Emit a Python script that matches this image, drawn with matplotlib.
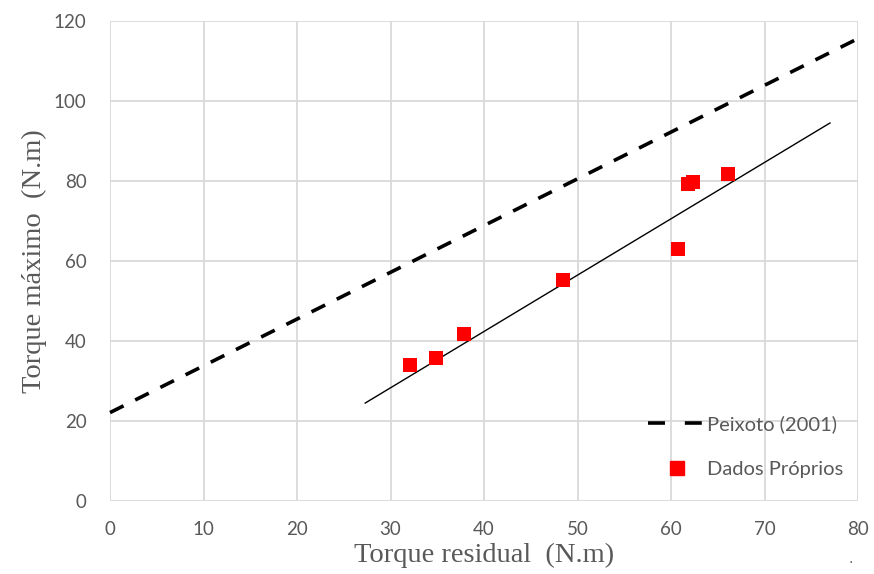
import numpy as np
import matplotlib.pyplot as plt
from matplotlib.lines import Line2D

# measured points (residual torque vs maximum torque)
torque_residual = [32.1, 34.9, 37.9, 48.4, 60.7, 61.8, 62.4, 66.1]
torque_maximo = [33.9, 35.6, 41.6, 55.1, 62.9, 79.1, 79.6, 81.6]

# Peixoto (2001) relation and fitted trend line of own data
peixoto_slope, peixoto_intercept = 1.17, 22.0
fit_slope, fit_intercept = 1.41, -14.1
fit_range = [27.3, 77.0]

x_ticks = list(range(0, 90, 10))
y_ticks = list(range(0, 140, 20))

GRAY = "#595959"
GRID = "#d9d9d9"

fig = plt.figure(figsize=(8.74, 5.74), dpi=100)
ax = fig.add_axes([110 / 874, 1 - 500.5 / 574, 748 / 874, 479.5 / 574])

ax.set_xlim(0, 80)
ax.set_ylim(0, 120)
ax.set_xticks(x_ticks)
ax.set_yticks(y_ticks)
ax.grid(True, color=GRID, linewidth=1.3)
ax.set_axisbelow(True)
for s in ax.spines.values():
    s.set_visible(False)
ax.tick_params(length=0, colors=GRAY, labelsize=13.5)
ax.tick_params(axis="x", pad=15)
ax.tick_params(axis="y", pad=17)
for lab in ax.get_xticklabels() + ax.get_yticklabels():
    lab.set_family("Lato")

xp = np.array([0, 80])
ax.plot(xp, peixoto_slope * xp + peixoto_intercept, color="black",
        linestyle=(0, (4.2, 3.6)), linewidth=2.6, clip_on=False, zorder=3)

xf = np.array(fit_range)
ax.plot(xf, fit_slope * xf + fit_intercept, color="black", linewidth=1.0, zorder=3)

ax.scatter(torque_residual, torque_maximo, marker="s", s=95, color="red",
           linewidths=0, zorder=4)

ax.set_xlabel("Torque residual  (N.m)", family="Liberation Serif", fontsize=20.5,
              color=GRAY, labelpad=3)
ax.set_ylabel("Torque máximo  (N.m)", family="Liberation Serif", fontsize=20.5,
              color=GRAY, labelpad=5)

handles = [
    Line2D([], [], color="black", linestyle=(0, (4.7, 5.5)), linewidth=2.6),
    Line2D([], [], color="red", marker="s", markersize=10, linestyle="none"),
]
ax.legend(handles, ["Peixoto (2001)", "Dados Próprios"], loc="upper left",
          bbox_to_anchor=(0.695, 0.215), frameon=False, handlelength=2.85,
          handletextpad=0.1, labelspacing=1.35, prop={"family": "Lato", "size": 14.5},
          labelcolor=GRAY)

fig.text(848 / 874, 1 - 563 / 574, ".", color=GRAY, fontsize=10)

fig.savefig("out.png", dpi=100)
